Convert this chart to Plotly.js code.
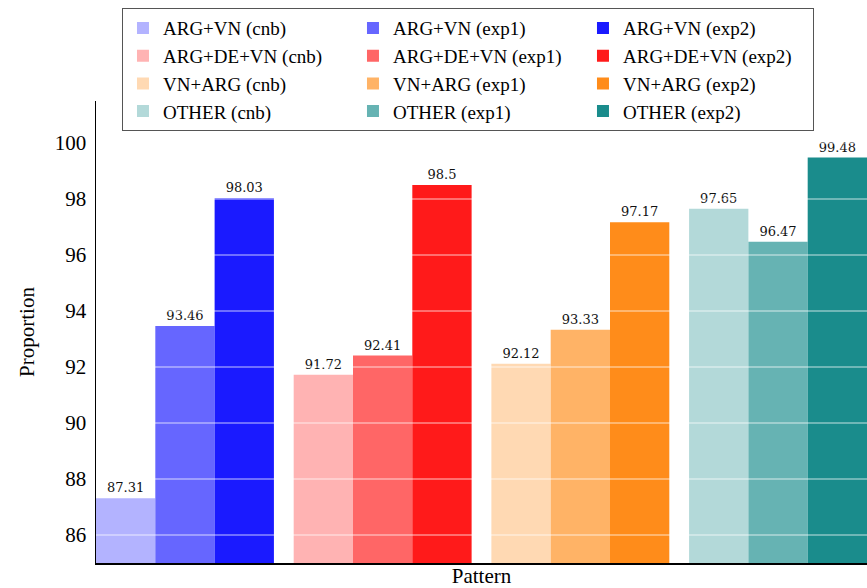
<!DOCTYPE html>
<html>
<head>
<meta charset="utf-8">
<script src="https://cdn.plot.ly/plotly-3.0.1.min.js"></script>
<style>html,body{margin:0;padding:0;background:#fff;}#chart{width:867px;height:588px;}</style>
</head>
<body>
<div id="chart"></div>
<script>
// Data
const patterns = ["ARG+VN", "ARG+DE+VN", "VN+ARG", "OTHER"];
const variants = ["cnb", "exp1", "exp2"];
const valuesCnb  = [87.31, 91.72, 92.12, 97.65];
const valuesExp1 = [93.46, 92.41, 93.33, 96.47];
const valuesExp2 = [98.03, 98.5, 97.17, 99.48];
const yTickVals = [86, 88, 90, 92, 94, 96, 98, 100];

// Styles
const colors = {
  "ARG+VN":    ["#b3b3ff", "#6666ff", "#1a1aff"],
  "ARG+DE+VN": ["#ffb3b3", "#ff6666", "#ff1a1a"],
  "VN+ARG":    ["#ffd9b3", "#ffb366", "#ff8c1a"],
  "OTHER":     ["#b3d9d9", "#66b3b3", "#1a8c8c"]
};
const seriesValues = [valuesCnb, valuesExp1, valuesExp2];

const traces = [];
patterns.forEach((p, pi) => {
  variants.forEach((v, vi) => {
    const val = seriesValues[vi][pi];
    traces.push({
      type: "bar",
      name: p + " (" + v + ")",
      x: [p],
      y: [val],
      offsetgroup: v,
      marker: {color: colors[p][vi], line: {width: 0}},
      text: [String(val)],
      textposition: "outside",
      textfont: {family: "DejaVu Serif", size: 13, color: "#111"},
      cliponaxis: false,
      hoverinfo: "skip"
    });
  });
});

const shapes = yTickVals.map(t => ({
  type: "line", xref: "paper", yref: "y", x0: 0, x1: 1, y0: t, y1: t,
  line: {color: "rgba(255,255,255,0.75)", width: 1}, layer: "above"
}));

const layout = {
  width: 867, height: 588,
  margin: {l: 96, r: 0, t: 101, b: 25},
  paper_bgcolor: "#fff", plot_bgcolor: "#fff",
  font: {family: "Liberation Serif", color: "#000"},
  barmode: "group", bargap: 0.1, bargroupgap: 0,
  showlegend: true,
  legend: {
    orientation: "h", x: 0.0337, xanchor: "left", y: 1.201, yanchor: "top",
    entrywidth: 185, entrywidthmode: "pixels",
    bgcolor: "#fff", bordercolor: "#555", borderwidth: 1,
    font: {family: "Liberation Serif", size: 19, color: "#000"},
    traceorder: "normal"
  },
  xaxis: {
    range: [-0.45, 3.45], showticklabels: false, ticks: "", showgrid: false,
    showline: true, linecolor: "#000", linewidth: 1.5, zeroline: false,
    title: {text: "Pattern", font: {family: "Liberation Serif", size: 21}, standoff: 6},
    automargin: false, fixedrange: true
  },
  yaxis: {
    range: [85, 101.5], tickvals: yTickVals, ticks: "", showgrid: false,
    showline: true, linecolor: "#000", linewidth: 1.5, zeroline: false,
    tickfont: {family: "Liberation Serif", size: 21}, ticklabelstandoff: 4,
    title: {text: "Proportion", font: {family: "Liberation Serif", size: 21}, standoff: 14},
    automargin: false, fixedrange: true
  },
  shapes: shapes
};

Plotly.newPlot("chart", traces, layout, {displayModeBar: false, staticPlot: true});
</script>
</body>
</html>
